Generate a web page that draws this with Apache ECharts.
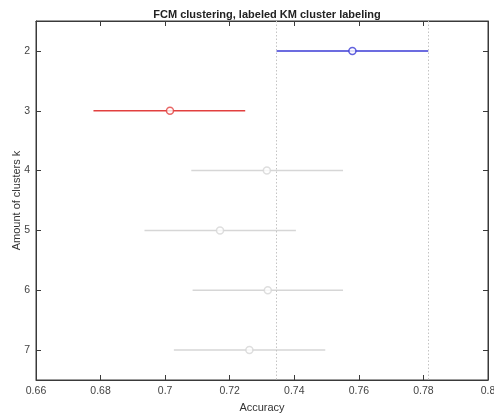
<!DOCTYPE html>
<html><head><meta charset="utf-8">
<script src="https://cdn.jsdelivr.net/npm/echarts@6/dist/echarts.min.js"></script>
<style>html,body{margin:0;padding:0;background:#fff}#c{width:494px;height:414px}</style>
</head><body><div id="c"></div>
<script>
const kValues = [2, 3, 4, 5, 6, 7];
const meanAcc  = [0.7580, 0.7015, 0.7315, 0.7170, 0.7318, 0.7261];
const lowerAcc = [0.7345, 0.6778, 0.7081, 0.6936, 0.7085, 0.7027];
const upperAcc = [0.7815, 0.7248, 0.7551, 0.7405, 0.7551, 0.7496];
const pointColors = ['#3b3bd6', '#e2403f', '#d6d6d6', '#d6d6d6', '#d6d6d6', '#d6d6d6'];
const refLines = [lowerAcc[0], upperAcc[0]];
const xMin = 0.66, xMax = 0.8, xStep = 0.02;
const yMin = 1.5, yMax = 7.5;

const chart = echarts.init(document.getElementById('c'), null, {renderer:'canvas'});
const font = 'Liberation Sans, Arial, Helvetica, sans-serif';
const axisCol = '#3a3a3a';

const barData = kValues.map((k,i)=>[lowerAcc[i], upperAcc[i], k, i]);
const ptData = kValues.map((k,i)=>({value:[meanAcc[i], k], itemStyle:{borderColor:pointColors[i]}}));

function yAxisDef(pos, showLabel, withName){
  const a = {type:'value', min:yMin, max:yMax, inverse:true, position:pos,
    axisLine:{show:true, lineStyle:{color:axisCol}},
    axisTick:{show:true, inside:true, length:5, customValues:kValues, lineStyle:{color:axisCol}},
    axisLabel:{show:showLabel, customValues:kValues, fontFamily:font, fontSize:10.5, color:'#444', margin:6},
    splitLine:{show:false}};
  if (withName) Object.assign(a, {name:'Amount of clusters k', nameLocation:'middle', nameGap:14, nameRotate:90,
    nameMoveOverlap:false,
    nameTextStyle:{fontFamily:font, fontSize:11, color:'#333'}});
  return a;
}

chart.setOption({
  animation:false,
  title:{text:'FCM clustering, labeled KM cluster labeling', left:262, top:4, textAlign:'center',
    textStyle:{fontFamily:font, fontSize:11, fontWeight:'bold', color:'#222'}},
  grid:{left:36, right:6, top:21, bottom:34, show:true, borderColor:axisCol, borderWidth:1,
    backgroundColor:'#fff', outerBoundsMode:'none', containLabel:false},
  xAxis:[{type:'value', min:xMin, max:xMax, interval:xStep, position:'bottom',
    name:'Accuracy', nameLocation:'middle', nameGap:22,
    nameTextStyle:{fontFamily:font, fontSize:11, color:'#333'},
    axisLine:{show:true, lineStyle:{color:axisCol}},
    axisTick:{show:true, inside:true, length:5, lineStyle:{color:axisCol}},
    axisLabel:{fontFamily:font, fontSize:10.5, color:'#444', margin:6, showMaxLabel:true, showMinLabel:true},
    splitLine:{show:false}},
   {type:'value', min:xMin, max:xMax, interval:xStep, position:'top',
    axisLine:{show:true, lineStyle:{color:axisCol}},
    axisTick:{show:true, inside:true, length:5, lineStyle:{color:axisCol}},
    axisLabel:{show:false}, splitLine:{show:false}}],
  yAxis:[yAxisDef('left', true, true), yAxisDef('right', false, false)],
  series:[
    {type:'custom', xAxisIndex:0, yAxisIndex:0, data:barData, z:2,
     encode:{x:[0,1], y:2},
     markLine:{silent:true, symbol:'none', precision:4, label:{show:false},
       lineStyle:{color:'#c4c4c4', type:[1.5,2], width:1},
       data:refLines.map(v=>({xAxis:v}))},
     renderItem:function(params, api){
       const i = api.value(3);
       const p1 = api.coord([api.value(0), api.value(2)]);
       const p2 = api.coord([api.value(1), api.value(2)]);
       return {type:'line', shape:{x1:p1[0], y1:p1[1], x2:p2[0], y2:p2[1]},
         style:{stroke:pointColors[i], lineWidth:1.5}};
     }},
    {type:'scatter', xAxisIndex:0, yAxisIndex:0, data:ptData, symbol:'circle', symbolSize:7, z:3,
     itemStyle:{color:'#fff', borderWidth:1.5}}
  ]
});
</script></body></html>
